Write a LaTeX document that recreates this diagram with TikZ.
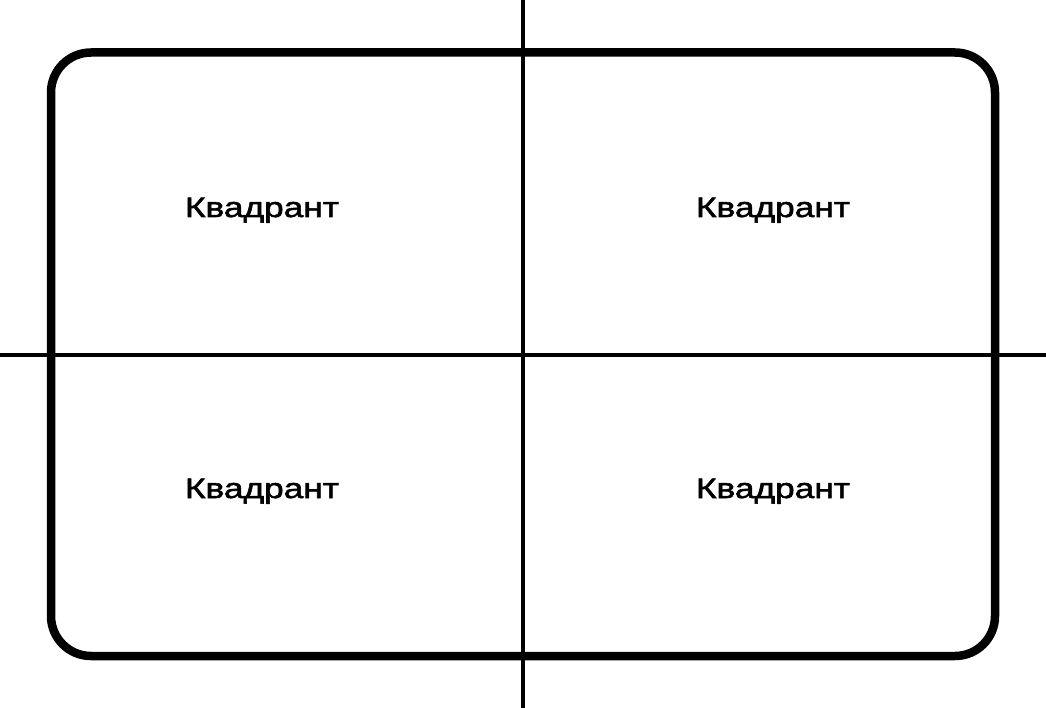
\documentclass[tikz,border=0pt]{standalone}
\usepackage{fontspec}
\setmainfont{Liberation Sans}
\newfontfamily\widesans[FakeStretch=1.26, FakeBold=2]{Liberation Sans}
\usetikzlibrary{positioning}

\begin{document}
\begin{tikzpicture}[x=1pt, y=-1pt, label/.style={font=\widesans\fontsize{28}{33}\selectfont, anchor=base, inner sep=0pt}]
\useasboundingbox (0,0) rectangle (1046,708);
\draw[line width=8.5pt, rounded corners=40pt] (51,52.5) rectangle (995,656);
\coordinate (top) at (523,0);
\coordinate (bottom) at (523,708);
\coordinate (left) at (0,354.5);
\coordinate (right) at (1046,354.5);
\node[label] (q1) at (262,217) {Квадрант};
\node[label] (q2) at (773,217) {Квадрант};
\node[label] (q3) at (262,498) {Квадрант};
\node[label] (q4) at (773,498) {Квадрант};
\draw[line width=4pt] (top) -- (bottom);
\draw[line width=4pt] (left) -- (right);
\end{tikzpicture}
\end{document}
